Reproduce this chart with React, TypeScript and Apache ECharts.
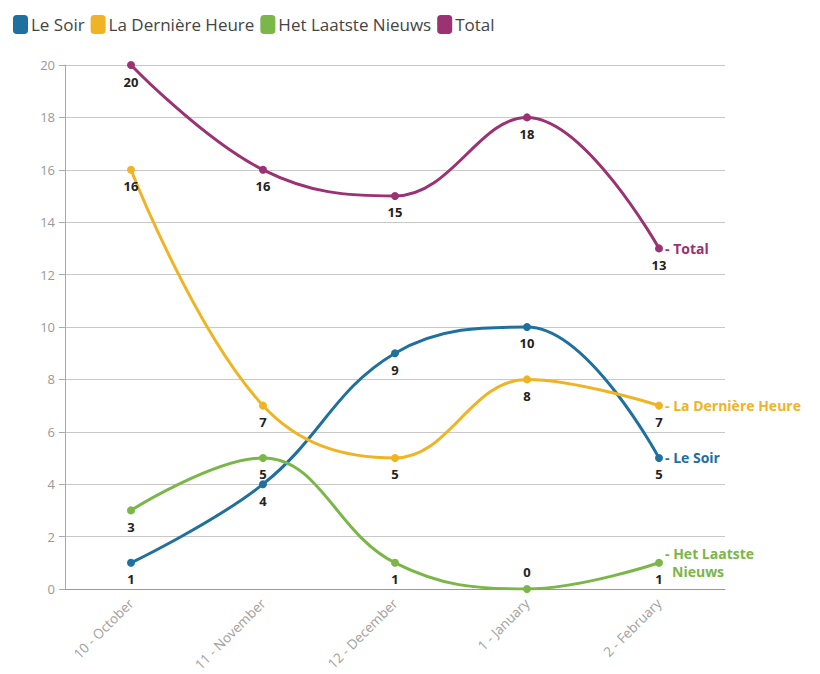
import React, { useEffect, useRef } from "react";
import * as echarts from "echarts";

const categories = ["10 - October", "11 - November", "12 - December", "1 - January", "2 - February"];
const leSoir = [1, 4, 9, 10, 5];
const laDerniereHeure = [16, 7, 5, 8, 7];
const hetLaatsteNieuws = [3, 5, 1, 0, 1];
const total = [20, 16, 15, 18, 13];

const seriesDefs = [
  { name: "Le Soir", data: leSoir, color: "#20709f", end: "- Le Soir" },
  { name: "La Dernière Heure", data: laDerniereHeure, color: "#f0b323", end: "- La Dernière Heure" },
  { name: "Het Laatste Nieuws", data: hetLaatsteNieuws, color: "#7ab648", end: "{a|- Het Laatste}\n{b|Nieuws}" },
  { name: "Total", data: total, color: "#9b3272", end: "- Total" },
];

export default function App() {
  const ref = useRef<HTMLDivElement>(null);
  useEffect(() => {
    if (!ref.current) return;
    const chart = echarts.init(ref.current, null, { renderer: "svg" });
    const font = "'Open Sans', 'Noto Sans', sans-serif";
    chart.setOption({
      animation: false,
      textStyle: { fontFamily: font },
      legend: {
        left: 8,
        top: 10,
        icon: "roundRect",
        itemWidth: 15,
        itemHeight: 19,
        itemGap: 6,
        textStyle: { fontSize: 17, color: "#444", fontFamily: font, padding: [0, 0, 0, -2] },
        data: seriesDefs.map((s) => s.name),
      },
      grid: { left: 65, right: 95, top: 65, bottom: 84, containLabel: false },
      xAxis: {
        type: "category",
        data: categories,
        boundaryGap: true,
        axisLine: { lineStyle: { color: "#999", width: 1 } },
        axisTick: { alignWithLabel: true, length: 6, lineStyle: { color: "#aaa" } },
        axisLabel: { rotate: 45, color: "#a0a0a0", fontSize: 13.5, margin: 12 },
      },
      yAxis: {
        type: "value",
        min: 0,
        max: 20,
        interval: 2,
        axisLine: { show: true, lineStyle: { color: "#aaa" } },
        axisTick: { show: true, length: 6, lineStyle: { color: "#aaa" } },
        axisLabel: { color: "#999", fontSize: 13, margin: 10 },
        splitLine: { lineStyle: { color: "#c8c8c8" } },
      },
      series: seriesDefs.map((s) => ({
        name: s.name,
        type: "line",
        data: s.data.map((v) =>
          s.name === "Het Laatste Nieuws" && v === 0
            ? { value: v, label: { position: "top" } }
            : v
        ),
        smooth: 0.4,
        symbol: "circle",
        symbolSize: 8,
        itemStyle: { color: s.color },
        lineStyle: { color: s.color, width: 3 },
        label: {
          show: true,
          position: "bottom",
          distance: 6,
          color: "#222",
          fontWeight: "bold",
          fontSize: 13,
        },
        endLabel: {
          show: true,
          formatter: s.end,
          color: s.color,
          fontWeight: "bold",
          fontSize: 14,
          distance: 6,
          rich: {
            a: { color: s.color, fontWeight: "bold", fontSize: 14, lineHeight: 18 },
            b: { color: s.color, fontWeight: "bold", fontSize: 14, lineHeight: 18, padding: [0, 0, 0, 7] },
          },
        },
      })),
    });
    return () => chart.dispose();
  }, []);
  return <div ref={ref} style={{ width: 820, height: 674, position: "absolute", left: 0, top: 0 }} />;
}
